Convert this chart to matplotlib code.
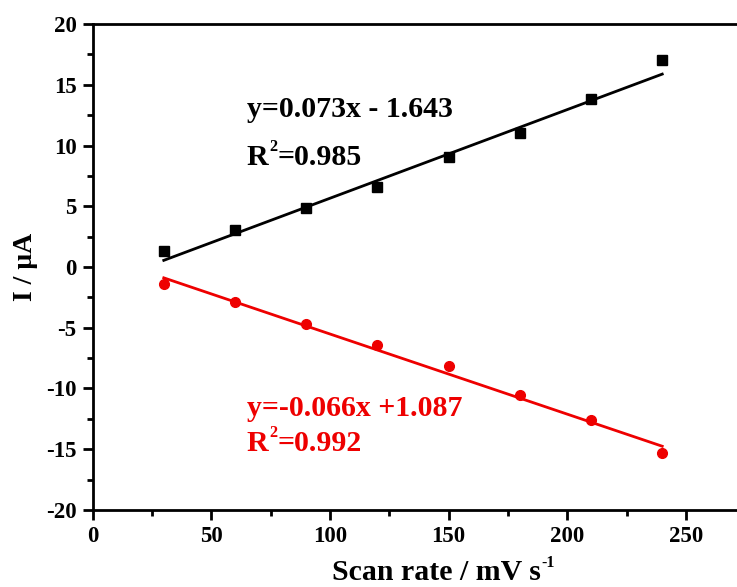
import matplotlib
matplotlib.use("Agg")
import matplotlib.pyplot as plt
import numpy as np
from matplotlib.ticker import MultipleLocator

plt.rcParams["font.family"] = ["Liberation Serif", "DejaVu Serif"]
plt.rcParams["font.weight"] = "bold"
plt.rcParams["axes.labelweight"] = "bold"
plt.rcParams["axes.unicode_minus"] = False

# scan rate (mV/s) and peak currents (uA)
scan_rate = [30, 60, 90, 120, 150, 180, 210, 240]
anodic = [1.28, 3.01, 4.82, 6.55, 9.02, 11.03, 13.83, 17.06]
cathodic = [-1.37, -2.91, -4.69, -6.45, -8.18, -10.5, -12.57, -15.31]

# fitted lines as reported
anodic_fit = (0.073, -1.643)
cathodic_fit = (-0.066, 1.087)
anodic_eq = "y=0.073x - 1.643"
anodic_r2 = "=0.985"
cathodic_eq = "y=-0.066x +1.087"
cathodic_r2 = "=0.992"

RED = "#ee0000"
TXT = 21.5


def r2_label(ax, x, y, value, color):
    # "R" + small raised "2" + value, like the origin export
    t1 = ax.text(x, y, "R", fontsize=TXT, color=color, va="center")
    t2 = ax.annotate("2", xy=(1, 1), xycoords=t1, xytext=(0.3, 3.5),
                     textcoords="offset points", fontsize=TXT * 0.55,
                     color=color, va="top", ha="left")
    ax.annotate(value, xy=(1, 0), xycoords=(t2, t1), fontsize=TXT,
                color=color, va="bottom", ha="left")


fig = plt.figure(figsize=(7.37, 5.87), dpi=100)
ax = fig.add_axes([0.1256, 0.1312, 0.8744, 0.8279])

x = np.array(scan_rate, dtype=float)
xf = np.array([x.min(), x.max()])

ax.plot(x, anodic, "s", color="black", markersize=6.5, zorder=3)
ax.plot(xf, anodic_fit[0] * xf + anodic_fit[1], color="black", linewidth=2.0)
ax.plot(x, cathodic, "o", color=RED, markersize=7, zorder=3)
ax.plot(xf, cathodic_fit[0] * xf + cathodic_fit[1], color=RED, linewidth=2.0)

ax.text(65, 12.95, anodic_eq, fontsize=TXT, color="black", va="center")
r2_label(ax, 65, 9.05, anodic_r2, "black")
ax.text(65, -11.65, cathodic_eq, fontsize=TXT, color=RED, va="center")
r2_label(ax, 65, -14.55, cathodic_r2, RED)

ax.set_xlim(0, 271.5)
ax.set_ylim(-20, 20)
ax.xaxis.set_major_locator(MultipleLocator(50))
ax.xaxis.set_minor_locator(MultipleLocator(25))
ax.yaxis.set_major_locator(MultipleLocator(5))
ax.yaxis.set_minor_locator(MultipleLocator(2.5))

for side in ["left", "bottom", "top"]:
    ax.spines[side].set_linewidth(2.0)
ax.spines["right"].set_visible(False)
ax.tick_params(which="major", direction="out", length=7.5, width=2, labelsize=16.5, pad=4)
ax.tick_params(which="minor", direction="out", length=4.5, width=2)
ax.tick_params(top=False, right=False, which="both")

ax.set_xlabel("Scan rate / mV s", fontsize=21.5, fontweight="bold", labelpad=8.5, x=0.534)
ax.annotate("-1", xy=(1, 1), xycoords=ax.xaxis.label, xytext=(0.5, 2.5),
            textcoords="offset points", fontsize=11.5, fontweight="bold",
            va="top", ha="left", annotation_clip=False)
ax.set_ylabel("I / μA", fontsize=20, fontweight="bold", labelpad=6)

fig.savefig("out.png", dpi=100)
